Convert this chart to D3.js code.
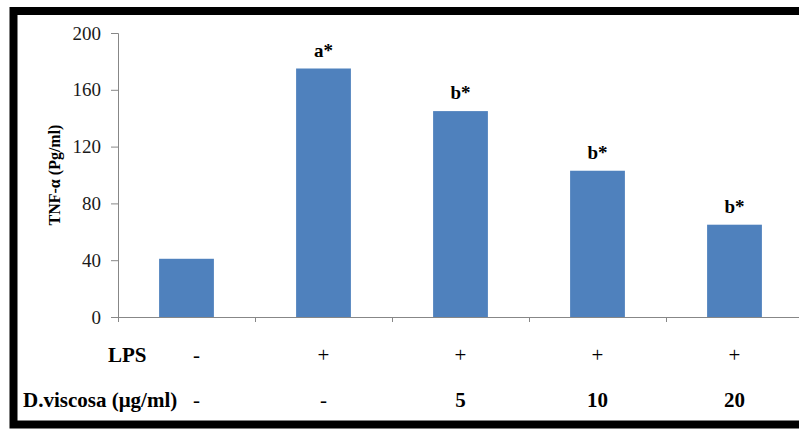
<!DOCTYPE html>
<html>
<head>
<meta charset="utf-8">
<script src="https://cdn.jsdelivr.net/npm/d3@7/dist/d3.min.js"></script>
<style>
  body { margin: 0; background: #fff; }
</style>
</head>
<body>
<div id="chart"></div>
<script>
const groups = [0, 1, 2, 3, 4];
const tnfValues = [41, 175, 145, 103, 65];
const sigLabels = ['', 'a*', 'b*', 'b*', 'b*'];
const lpsRow = ['-', '+', '+', '+', '+'];
const dvRow = ['-', '-', '5', '10', '20'];
const yTicks = [0, 40, 80, 120, 160, 200];

const width = 799;
const height = 430;
const plot = { left: 118, right: 803, top: 33, bottom: 317 };
const serif = '"Liberation Serif", "Times New Roman", Times, serif';

const svg = d3.select('#chart')
    .append('svg')
    .attr('width', width)
    .attr('height', height)
    .style('font-family', serif);

svg.append('rect')
    .attr('width', width)
    .attr('height', height)
    .attr('fill', '#fff');

// black frame (right side is cut off in the original)
svg.append('rect')
    .attr('x', 13.5)
    .attr('y', 11)
    .attr('width', 900)
    .attr('height', 413.5)
    .attr('fill', 'none')
    .attr('stroke', '#000')
    .attr('stroke-width', 8);

const x = d3.scaleBand()
    .domain(groups)
    .range([plot.left, plot.right])
    .paddingInner(0.6)
    .paddingOuter(0.3);

const y = d3.scaleLinear()
    .domain([0, 200])
    .range([plot.bottom, plot.top]);

// y axis
const yAxis = svg.append('g')
    .attr('transform', `translate(${plot.left},0)`)
    .call(d3.axisLeft(y).tickValues(yTicks).tickSize(7).tickPadding(10));
yAxis.attr('font-family', null).attr('font-size', null);
yAxis.selectAll('path, line').attr('stroke', '#878787');
yAxis.selectAll('text')
    .style('font-family', serif)
    .style('font-size', '19px')
    .attr('fill', '#1a1a1a');

// x axis with ticks between categories
const step = x.step();
const boundaries = d3.range(0, groups.length).map(i => plot.left + i * step);
const xAxis = svg.append('g');
xAxis.append('line')
    .attr('x1', plot.left)
    .attr('x2', plot.right)
    .attr('y1', y(0) + 0.5)
    .attr('y2', y(0) + 0.5)
    .attr('stroke', '#878787');
xAxis.selectAll('line.tick')
    .data(boundaries)
    .enter()
    .append('line')
    .attr('class', 'tick')
    .attr('x1', d => Math.round(d) + 0.5)
    .attr('x2', d => Math.round(d) + 0.5)
    .attr('y1', y(0))
    .attr('y2', y(0) + 5)
    .attr('stroke', '#878787');

// bars
svg.append('g')
    .selectAll('rect')
    .data(tnfValues)
    .enter()
    .append('rect')
    .attr('x', (d, i) => x(groups[i]))
    .attr('y', d => y(d))
    .attr('width', x.bandwidth())
    .attr('height', d => y(0) - y(d))
    .attr('fill', '#4f81bd');

// significance labels
svg.append('g')
    .selectAll('text')
    .data(tnfValues)
    .enter()
    .append('text')
    .attr('x', (d, i) => x(groups[i]) + x.bandwidth() / 2)
    .attr('y', d => y(d) - 12)
    .attr('text-anchor', 'middle')
    .style('font-family', serif)
    .style('font-size', '19px')
    .style('font-weight', 'bold')
    .text((d, i) => sigLabels[i]);

// y axis title
svg.append('text')
    .attr('transform', 'translate(60,175) rotate(-90)')
    .attr('text-anchor', 'middle')
    .style('font-family', serif)
    .style('font-size', '16px')
    .style('font-weight', 'bold')
    .text('TNF-α (Pg/ml)');

// treatment rows under the axis
const rowY = [362, 407];
svg.append('text')
    .attr('x', 108)
    .attr('y', rowY[0])
    .style('font-family', serif)
    .style('font-size', '21px')
    .style('font-weight', 'bold')
    .text('LPS');

svg.append('text')
    .attr('x', 23)
    .attr('y', rowY[1])
    .style('font-family', serif)
    .style('font-size', '21px')
    .style('font-weight', 'bold')
    .text('D.viscosa (μg/ml)');

svg.append('g')
    .selectAll('text')
    .data(lpsRow)
    .enter()
    .append('text')
    .attr('x', (d, i) => x(groups[i]) + x.bandwidth() / 2 + (i === 0 ? 10 : 0))
    .attr('y', rowY[0])
    .attr('text-anchor', 'middle')
    .style('font-family', serif)
    .style('font-size', '21px')
    .text(d => d);

svg.append('g')
    .selectAll('text')
    .data(dvRow)
    .enter()
    .append('text')
    .attr('x', (d, i) => x(groups[i]) + x.bandwidth() / 2 + (i === 0 ? 10 : 0))
    .attr('y', rowY[1])
    .attr('text-anchor', 'middle')
    .style('font-family', serif)
    .style('font-size', '21px')
    .style('font-weight', d => (d === '-' ? 'normal' : 'bold'))
    .text(d => d);
</script>
</body>
</html>
